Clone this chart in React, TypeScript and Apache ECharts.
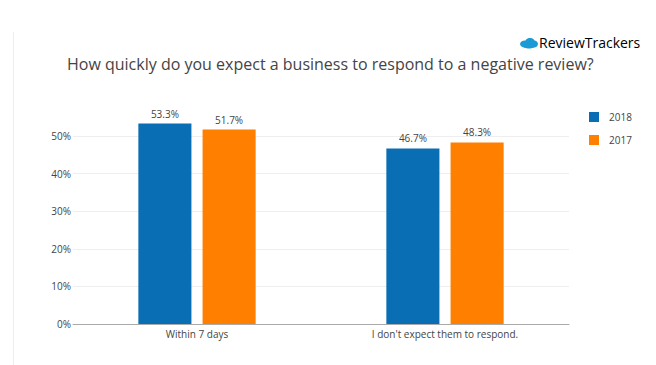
import React, { useEffect, useRef } from "react";
import * as echarts from "echarts";

const categories = ["Within 7 days", "I don't expect them to respond."];
const series2018 = [53.3, 46.7];
const series2017 = [51.7, 48.3];
const seriesNames = ["2018", "2017"];
const yTicks = [0, 10, 20, 30, 40, 50];

export default function App() {
  const ref = useRef<HTMLDivElement>(null);
  useEffect(() => {
    if (!ref.current) return;
    const chart = echarts.init(ref.current, undefined, { renderer: "svg" });
    const font = "'Open Sans', 'Noto Sans', sans-serif";
    const labelCfg = {
      show: true,
      position: "top" as const,
      distance: 5,
      formatter: (p: any) => p.value.toFixed(1) + "%",
      color: "#444",
      fontSize: 10,
      fontFamily: font,
    };
    chart.setOption({
      animation: false,
      backgroundColor: "#fff",
      textStyle: { fontFamily: font },
      title: {
        text: "How quickly do you expect a business to respond to a negative review?",
        left: 62,
        top: 51,
        textStyle: { fontSize: 16, fontWeight: "normal", color: "#444", fontFamily: font },
      },
      legend: {
        orient: "vertical",
        left: 584,
        top: 107,
        itemWidth: 10,
        itemHeight: 10,
        itemGap: 13,
        icon: "rect",
        textStyle: { fontSize: 10, color: "#444", fontFamily: font, padding: [0, 0, 0, 5] },
        data: seriesNames,
      },
      grid: { left: 73, right: 87, top: 136, bottom: 41, containLabel: false },
      xAxis: {
        type: "category",
        data: categories,
        axisTick: { show: false },
        axisLine: { lineStyle: { color: "#aaa", width: 1 } },
        axisLabel: { color: "#444", fontSize: 10, fontFamily: font, margin: 5 },
      },
      yAxis: {
        type: "value",
        min: yTicks[0],
        max: yTicks[yTicks.length - 1],
        interval: 10,
        axisLine: { show: false },
        axisTick: { show: false },
        splitLine: { lineStyle: { color: "#eee" } },
        axisLabel: {
          color: "#444",
          fontSize: 10,
          fontFamily: font,
          margin: 2,
          formatter: (v: number) => v + "%",
        },
      },
      series: [
        {
          name: seriesNames[0],
          type: "bar",
          data: series2018,
          barWidth: "21.4%",
          barGap: "21%",
          clip: false,
          itemStyle: { color: "#0a6eb4" },
          label: labelCfg,
        },
        {
          name: seriesNames[1],
          type: "bar",
          data: series2017,
          barWidth: "21.4%",
          barGap: "21%",
          clip: false,
          itemStyle: { color: "#ff7f00" },
          label: labelCfg,
        },
      ],
      graphic: [
        {
          type: "line",
          shape: { x1: 13.5, y1: 32, x2: 13.5, y2: 365 },
          style: { stroke: "#eee", lineWidth: 1 },
        },
        {
          type: "group",
          left: 520,
          top: 38,
          children: [
            { type: "ellipse", shape: { cx: 5, cy: 6, rx: 5, ry: 3.5 }, style: { fill: "#1b9ad6" } },
            { type: "ellipse", shape: { cx: 10, cy: 4.5, rx: 5, ry: 4.5 }, style: { fill: "#1b9ad6" } },
            { type: "ellipse", shape: { cx: 14, cy: 6, rx: 4, ry: 3.5 }, style: { fill: "#1b9ad6" } },
            { type: "ellipse", shape: { cx: 9, cy: 8, rx: 6, ry: 2.5 }, style: { fill: "#1b9ad6" } },
          ],
        },
        {
          type: "text",
          left: 539,
          top: 35,
          style: {
            text: "{a|Review}{b|Trackers}",
            rich: {
              a: { fontSize: 14, color: "#555", fontFamily: font },
              b: { fontSize: 14, color: "#888", fontFamily: font },
            },
          },
        },
      ],
    });
    return () => chart.dispose();
  }, []);
  return (
    <div
      ref={ref}
      style={{ position: "fixed", left: 0, top: 0, width: 656, height: 365 }}
    />
  );
}
